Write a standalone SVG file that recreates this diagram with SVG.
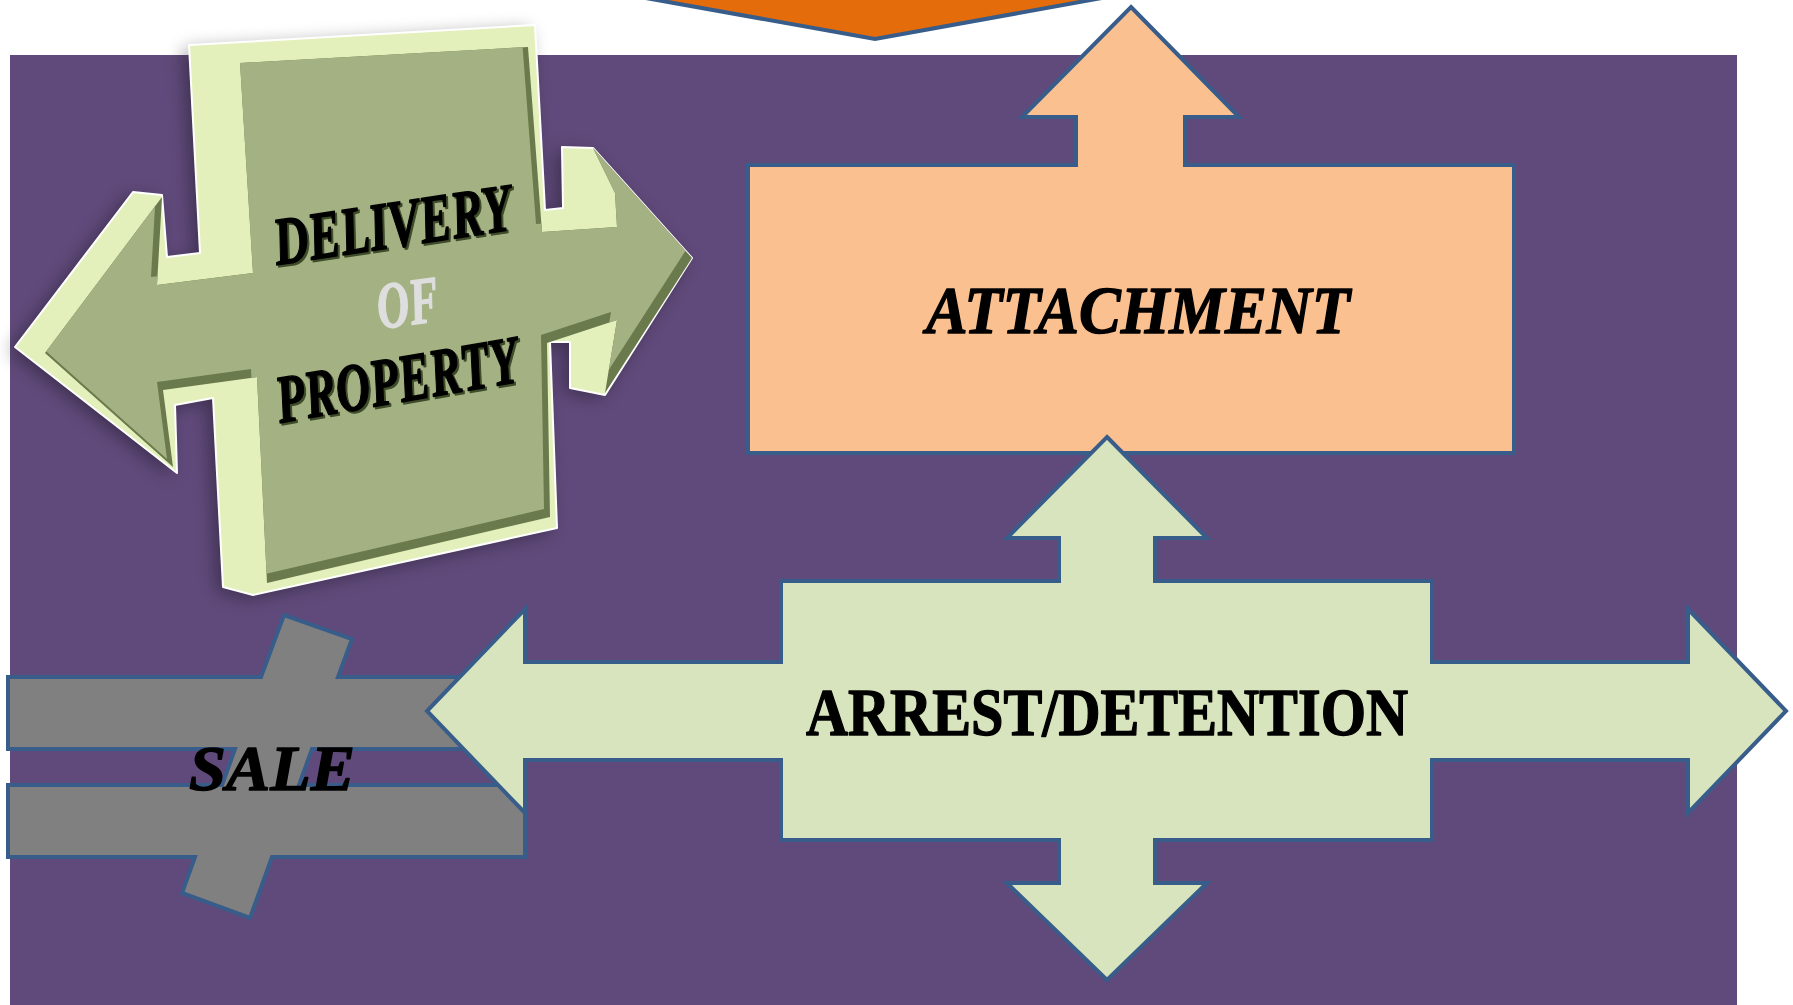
<svg xmlns="http://www.w3.org/2000/svg" width="1793" height="1005" viewBox="0 0 1793 1005">
<style>
.shape{stroke:#385D8A;stroke-width:4;stroke-linejoin:miter}
.lbl{font-family:"Liberation Serif","DejaVu Serif",serif;font-weight:bold;fill:#000;stroke:#000;stroke-width:1.4;stroke-linejoin:round}
.it{font-style:italic}
</style>
<defs>
<filter id="soft" x="-30%" y="-30%" width="160%" height="160%"><feGaussianBlur stdDeviation="9"/></filter>
<clipPath id="frontClip"><polygon points="240,63 528,47 542,232 617,227 615,193 593,148 692,258 605,393 617,320 547,343 550,517 267,583 257,377 163,390 173,467 45,353 162,197 157,285 253,273"/></clipPath>
</defs>
<rect x="0" y="0" width="1793" height="1005" fill="#FFFFFF"/>
<rect id="background" x="10" y="55" width="1727" height="960" fill="#604A7B"/>

<g id="orange-chevron">
<polygon class="shape" points="601,-10 875,39 1146,-10" fill="#E46C0A"/>
</g>

<g id="delivery-of-property">
<polygon points="189,45 535,25 545,210 563,208 562,147 593,148 692,258 605,395 570,388 570,342 550,342 557,528 253,595 223,587 213,398 175,405 177,473 15,347 133,192 162,195 167,257 200,253" fill="#000" opacity="0.35" filter="url(#soft)" transform="translate(-6,4)"/>
<polygon points="189,45 535,25 545,210 563,208 562,147 593,148 692,258 605,395 570,388 570,342 550,342 557,528 253,595 223,587 213,398 175,405 177,473 15,347 133,192 162,195 167,257 200,253" fill="#E4F0BC" stroke="#FFFFFF" stroke-width="2" stroke-linejoin="round"/>
<polygon points="240,63 528,47 542,232 617,227 615,193 593,148 692,258 605,393 617,320 547,343 550,517 267,583 257,377 163,390 173,467 45,353 162,197 157,285 253,273" fill="#6B7A4C"/>
<g clip-path="url(#frontClip)">
<polygon transform="translate(-6,-8)" points="240,63 528,47 542,232 617,227 615,193 593,148 692,258 605,393 617,320 547,343 550,517 267,583 257,377 163,390 173,467 45,353 162,197 157,285 253,273" fill="#A4B283"/>
</g>
<text class="lbl it" transform="translate(279,267) rotate(-8.5)" font-size="68" textLength="240" lengthAdjust="spacingAndGlyphs" style="fill:#3E4C2A;stroke:#3E4C2A">DELIVERY</text>
<text class="lbl it" transform="translate(277,265) rotate(-8.5)" font-size="68" textLength="240" lengthAdjust="spacingAndGlyphs">DELIVERY</text>
<text class="lbl it" transform="translate(380,329) rotate(-8)" font-size="66" textLength="62" lengthAdjust="spacingAndGlyphs" style="fill:#DEDEDE;stroke:#DEDEDE">OF</text>
<text class="lbl it" transform="translate(282,425) rotate(-9.8)" font-size="68" textLength="245" lengthAdjust="spacingAndGlyphs" style="fill:#3E4C2A;stroke:#3E4C2A">PROPERTY</text>
<text class="lbl it" transform="translate(280,423) rotate(-9.8)" font-size="68" textLength="245" lengthAdjust="spacingAndGlyphs">PROPERTY</text>
</g>

<g id="attachment">
<polygon class="shape" points="1131,7 1239,117 1185,117 1185,165 1514,165 1514,453 748,453 748,165 1076,165 1076,117 1022,117" fill="#FAC090"/>
<text class="lbl it" x="926" y="333" font-size="68" textLength="424" lengthAdjust="spacingAndGlyphs">ATTACHMENT</text>
</g>

<g id="sale">
<polygon class="shape" points="8,677 261,677 284,615 352,639 338,677 525,677 525,749 312,749 299,785 525,785 525,857 272,857 250,918 182,893 195,857 8,857 8,785 222,785 235,749 8,749" fill="#808080"/>
<text class="lbl it" x="189" y="790" font-size="64" textLength="166" lengthAdjust="spacingAndGlyphs">SALE</text>
</g>

<g id="arrest-detention">
<polygon class="shape" points="1107,437 1207,538 1155,538 1155,581 1432,581 1432,662 1688,662 1688,609 1786,711 1688,813 1688,760 1432,760 1432,840 1155,840 1155,883 1207,883 1107,980 1007,883 1059,883 1059,840 781,840 781,760 525,760 525,813 427,711 525,609 525,662 781,662 781,581 1059,581 1059,538 1007,538" fill="#D7E4BD"/>
<text class="lbl" x="806" y="735" font-size="68" textLength="602" lengthAdjust="spacingAndGlyphs">ARREST/DETENTION</text>
</g>

<g id="connectors"/>
</svg>
